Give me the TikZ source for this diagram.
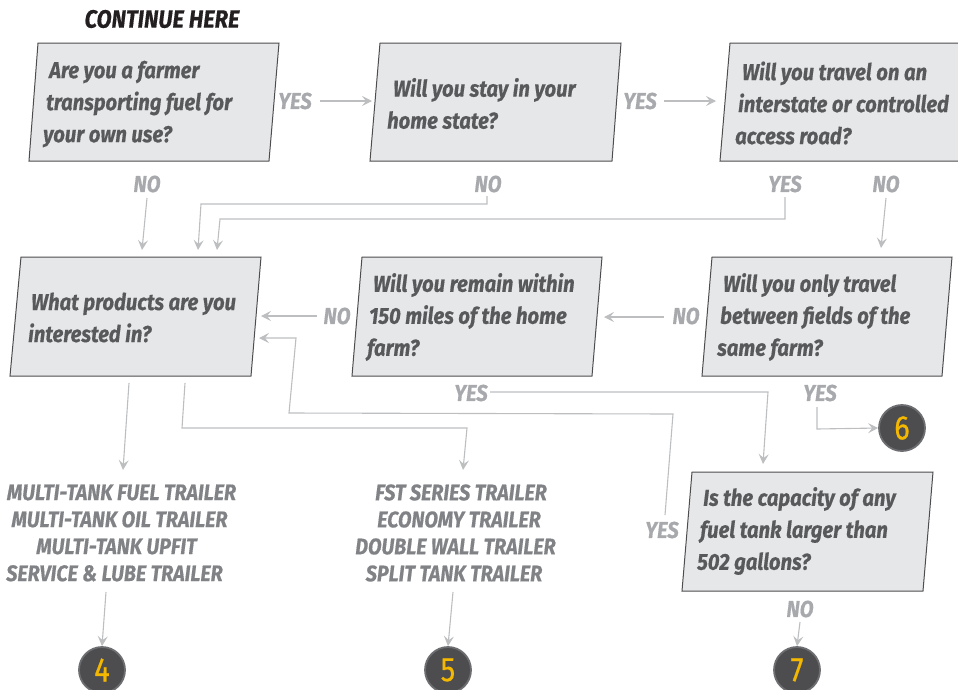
\documentclass[tikz,border=0pt]{standalone}
\usepackage{fontspec}
\setmainfont{Fira Sans}
\newfontfamily\qfont{Fira Sans}[FakeStretch=0.88, BoldFeatures={FakeBold=0.5}, BoldItalicFeatures={FakeBold=0.5}]
\newfontfamily\numfont{Fira Sans}[FakeStretch=0.85, FakeBold=0.6]
\usetikzlibrary{arrows.meta}
\definecolor{boxfill}{HTML}{E6E7E8}
\definecolor{boxline}{HTML}{4D4D4F}
\definecolor{qtextc}{HTML}{58595B}
\definecolor{lblc}{HTML}{A7A9AC}
\definecolor{connc}{HTML}{BCBEC0}
\definecolor{prodc}{HTML}{808285}
\definecolor{circfill}{HTML}{4D4D4F}
\definecolor{circline}{HTML}{6D6E71}
\definecolor{numc}{HTML}{F5B800}
\definecolor{headc}{HTML}{231F20}
\tikzset{
  qbox/.style={fill=boxfill, draw=boxline, line width=1pt},
  qtext/.style={inner sep=0pt, anchor=west, align=left, text=qtextc,
    font=\qfont\bfseries\itshape\fontsize{23}{32}\selectfont},
  lbl/.style={inner sep=0pt, text=lblc, font=\qfont\bfseries\itshape\fontsize{23}{26}\selectfont},
  conn/.style={draw=connc, line width=1.1pt, -{Stealth[length=10pt,width=10pt,inset=4pt]}},
  prod/.style={inner sep=0pt, align=center, text=prodc,
    font=\qfont\bfseries\itshape\fontsize{22.5}{27}\selectfont},
  num/.style={circle, minimum size=46pt, inner sep=0pt, fill=circfill, draw=circline,
    line width=1.8pt, text=numc, font=\numfont\fontsize{34}{34}\selectfont},
  head/.style={inner sep=0pt, text=headc, font=\qfont\bfseries\itshape\fontsize{25}{28}\selectfont}
}
\begin{document}
\begin{tikzpicture}[x=1pt,y=-1pt]
\useasboundingbox (0,0) rectangle (958,689);
% heading
\node[head] (head) at (162,19) {CONTINUE HERE};
% boxes
\draw[qbox] (38,43) -- (279,43) -- (269,161) -- (29,161) -- cycle;
\draw[qbox] (380,43) -- (621,43) -- (612,161) -- (370,161) -- cycle;
\draw[qbox] (730,43) -- (972,43) -- (962,161) -- (720,161) -- cycle;
\draw[qbox] (21,257) -- (261,257) -- (251,376) -- (10,376) -- cycle;
\draw[qbox] (362,257) -- (602,257) -- (592,376) -- (352,376) -- cycle;
\draw[qbox] (712,257) -- (952,257) -- (942,376) -- (702,376) -- cycle;
\draw[qbox] (692,472) -- (933,472) -- (923,591) -- (682,591) -- cycle;
% box texts
\node[qtext] (q1) at (43,104) {\hspace*{6pt}Are you a farmer\\\hspace*{3pt}transporting fuel for\\your own use?};
\node[qtext] (q2) at (387,103.5) {\hspace*{6pt}Will you stay in your\\home state?};
\node[qtext] (q3) at (735,103) {\hspace*{7pt}Will you travel on an\\\hspace*{3pt}interstate or controlled\\access road?};
\node[qtext] (q4) at (28,317.5) {\hspace*{3pt}What products are you\\interested in?};
\node[qtext] (q5) at (367,317) {\hspace*{6pt}Will you remain within\\\hspace*{2pt}150 miles of the home\\farm?};
\node[qtext] (q6) at (717,317) {\hspace*{6pt}Will you only travel\\\hspace*{3pt}between fields of the\\same farm?};
\node[qtext] (q7) at (697,531) {\hspace*{6pt}Is the capacity of any\\\hspace*{3pt}fuel tank larger than\\502 gallons?};
% labels
\node[lbl] (ya) at (295,101) {YES};
\node[lbl] (yb) at (640,101) {YES};
\node[lbl] (n1) at (147,184) {NO};
\node[lbl] (n2) at (488,184) {NO};
\node[lbl] (y3) at (785,184) {YES};
\node[lbl] (n3) at (886,184) {NO};
\node[lbl] (n5) at (337,316) {NO};
\node[lbl] (n6) at (686,316) {NO};
\node[lbl] (y5) at (471,393) {YES};
\node[lbl] (y6) at (820,393) {YES};
\node[lbl] (y7) at (662,530) {YES};
\node[lbl] (n7) at (800,609) {NO};
% product lists
\node[prod] (p1) at (118,533) {\hspace*{7pt}MULTI-TANK FUEL TRAILER\\\hspace*{3pt}MULTI-TANK OIL TRAILER\\\hspace*{-3pt}MULTI-TANK UPFIT\\\hspace*{-7pt}SERVICE \& LUBE TRAILER};
\node[prod] (p2) at (457.5,533) {\hspace*{7pt}FST SERIES TRAILER\\\hspace*{3pt}ECONOMY TRAILER\\\hspace*{-4pt}DOUBLE WALL TRAILER\\\hspace*{-7pt}SPLIT TANK TRAILER};
% circles
\node[num] (c4) at (102,670) {4};
\node[num] (c5) at (448,670) {5};
\node[num] (c6) at (902,428) {6};
\node[num] (c7) at (797,670) {7};
% arrow tip coordinates
\coordinate (t2) at (372,101);
\coordinate (t3) at (716,101);
\coordinate (t4a) at (142,250);
\coordinate (t4b) at (198,250);
\coordinate (t4c) at (217,250);
\coordinate (t6) at (881,248);
\coordinate (t5) at (604,317);
\coordinate (t4d) at (261,316);
\coordinate (t7) at (763,464);
\coordinate (t4e) at (259,338);
\coordinate (b4a) at (129,383);
\coordinate (b4b) at (185,383);
% connectors
\draw[conn] (320,101) -- (t2);
\draw[conn] (664,101) -- (t3);
\draw[conn] (147,198) -- (t4a);
\draw[conn] (487,196) -- (487,204) -- (201,204) -- (t4b);
\draw[conn] (785,197) -- (785,219) -- (220,219) -- (t4c);
\draw[conn] (886,198) -- (t6);
\draw[conn] (664,317) -- (t5);
\draw[conn] (317,316) -- (t4d);
\draw[conn] (490,392) -- (768,392) -- (t7);
\draw[conn] (665,515) -- (673,414) -- (289,413) -- (296,338) -- (t4e);
\draw[conn] (b4a) -- (123,470);
\draw[conn] (b4b) -- (182,428) -- (467,428) -- (463,470);
\draw[conn] (106,592) -- (c4.north);
\draw[conn] (453,592) -- (c5.north);
\draw[conn] (817,407) -- (817,429) -- (c6.west);
\draw[conn] (800,622) -- (c7.north);
\end{tikzpicture}
\end{document}
